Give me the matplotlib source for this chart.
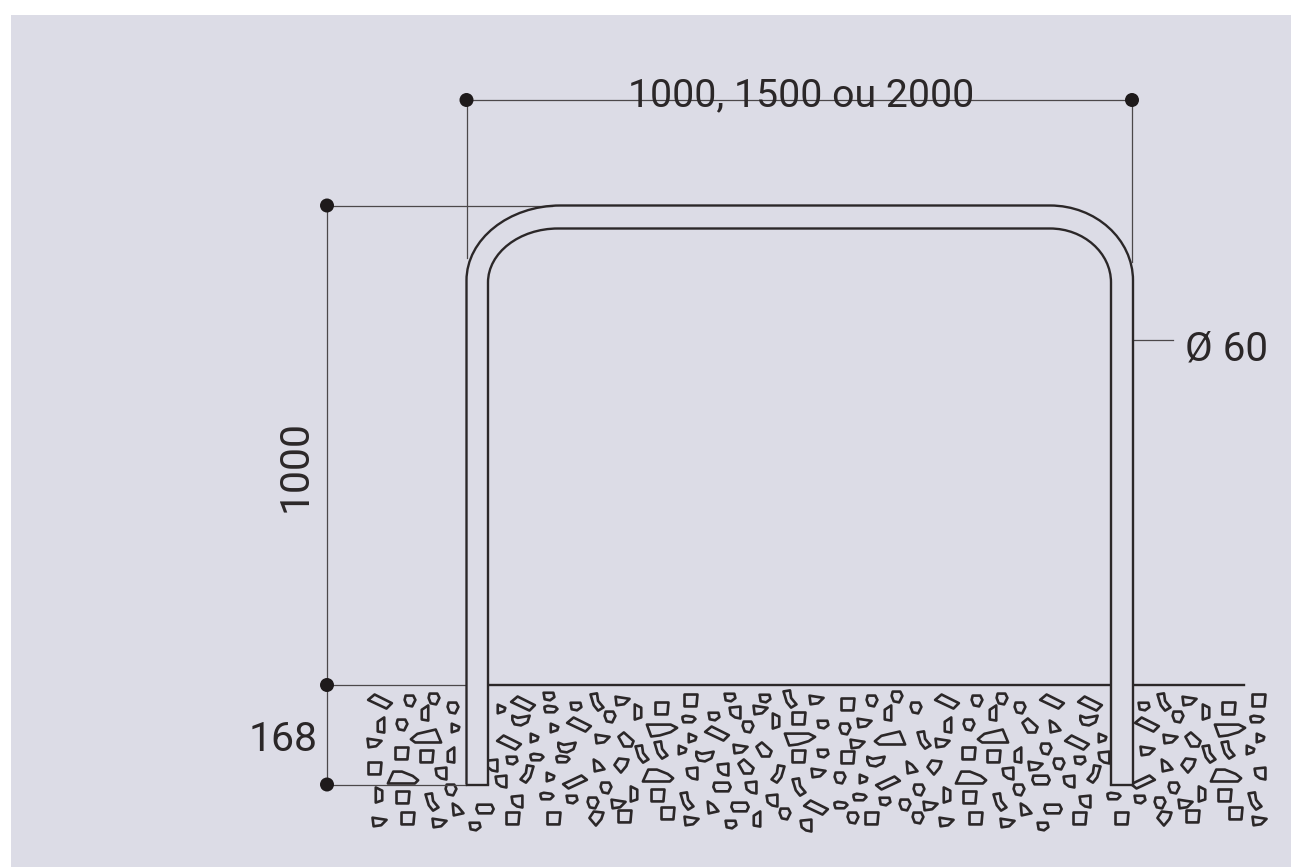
import matplotlib
matplotlib.use('Agg')
import matplotlib.pyplot as plt
from matplotlib.patches import Circle, Polygon, PathPatch, Rectangle
from matplotlib.path import Path

BG = '#dcdce6'
INK = '#2b2728'
THIN = '#4c484a'

# labels
width_label = '1000, 1500 ou 2000'
height_label = '1000'
depth_label = '168'
diam_label = 'Ø 60'

# stone outlines, offsets in px around the centre
shapes = {
	'rhomb': [(-11, -1), (-5, -6), (11, 2), (6, 7)],
	'rhomb_r': [(-11, 2), (6, -6), (11, -2), (-6, 6)],
	'pent': [(-4, -5), (3, -5), (5, -1), (2, 5), (-3, 4), (-5, -1)],
	'tall': [(-3, -3), (3, -7), (3, 7), (-3, 6)],
	'tall_r': [(-3, -7), (3, -4), (3, 5), (-3, 7)],
	'box': [(-6, -6), (6, -6), (5, 5), (-6, 5)],
	'wedge': [(-14, 3), (-8, -2), (9, -6), (14, 6), (-10, 6)],
	'wedge2': [(-14, 6), (-9, -5), (-1, -5), (9, -1), (14, 3), (11, 6)],
	'wedge3': [(-14, -5), (8, -5), (14, -2), (8, 2), (-2, 5), (-10, 6)],
	'half': [(-8, -4), (-3, -2), (3, -3), (8, -4), (6, 2), (0, 5), (-6, 4), (-8, 0)],
	'half2': [(-5, -4), (5, -5), (5, 6), (0, 5), (-4, 2)],
	'tab': [(-6, -4), (7, -2), (2, 3), (-5, 4)],
	'small': [(-5, -3), (4, -3), (5, 1), (1, 4), (-4, 3)],
	'tiny': [(-3, -4), (4, -1), (3, 2), (-3, 4)],
	'tri': [(-4, -6), (1, -3), (6, 3), (-3, 5)],
	'bean': [(-6, -7), (0, -8), (1, -1), (6, 5), (1, 8), (-3, 3)],
	'bean_r': [(0, -8), (6, -7), (3, 3), (-1, 8), (-6, 5), (-1, -1)],
	'pill': [(-7, -4), (6, -4), (8, 0), (6, 4), (-6, 4), (-8, 0)],
	'oval': [(-6, -2), (-3, -3), (4, -2), (6, 0), (3, 3), (-5, 3), (-6, 0)],
	'rs1': [(-7, 0), (-3, -6), (6, -5), (4, 1), (-1, 7)],
	'rs2': [(-7, -3), (-2, -7), (7, 1), (5, 6), (-2, 6)],
}

# gravel
stone_x = [380, 410, 434, 425, 453, 381, 402, 455, 426, 374, 402, 427, 451, 375, 403, 441, 451, 379, 403, 432,
	457, 485, 379, 408, 439, 475, 513, 517, 554, 547, 572, 593, 618, 597, 625, 634, 606, 575, 550, 501,
	527, 492, 512, 537, 563, 567, 534, 509, 521, 523, 501, 549, 551, 554, 576, 579, 597, 622, 610, 638,
	602, 626, 642, 622, 598,
	662, 691, 689, 662, 730, 714, 735, 765, 760, 790, 816, 848, 776, 799, 823, 845, 864, 717, 748, 800,
	692, 682, 661, 705, 740, 764, 799, 823, 848, 857, 658, 692, 723, 746, 778, 818, 840, 863, 722, 751,
	799, 658, 687, 772, 712, 740, 816, 841, 860, 668, 691, 731, 757, 785, 806, 853,
	872, 897, 888, 916, 947, 977, 1002, 993, 1020, 1052, 1090, 948, 969, 1030, 1054, 1089, 890, 924, 942, 993,
	1077, 1046, 969, 994, 1018, 876, 911, 935, 1035, 1059, 1080, 971, 1008, 1094, 888, 919, 1041, 1069, 1019, 947,
	970, 1000, 885, 905, 930, 1025, 1053, 1085, 872, 918, 946, 976, 1007, 1043, 1080,
	1102, 1104, 1144, 1164, 1189, 1206, 1229, 1259, 1257, 1230, 1178, 1147, 1170, 1193, 1147, 1209, 1228, 1250, 1260, 1166,
	1189, 1226, 1260, 1143, 1174, 1202, 1225, 1255, 1114, 1140, 1160, 1185, 1165, 1193, 1122, 1236, 1259]
stone_y = [701, 701, 699, 713, 708, 725, 725, 728, 736, 743, 754, 757, 755, 769, 777, 773, 790, 795, 798, 802,
	810, 809, 822, 819, 823, 826, 819, 801, 819, 796, 799, 803, 804, 818, 817, 794, 788, 782, 777, 781,
	774, 765, 760, 757, 759, 747, 738, 742, 720, 703, 709, 696, 709, 728, 706, 724, 702, 701, 717, 712,
	739, 740, 754, 765, 766,
	709, 701, 719, 730, 697, 716, 712, 698, 710, 699, 700, 705, 721, 719, 724, 729, 723, 733, 727, 739,
	738, 750, 750, 756, 749, 750, 757, 753, 758, 744, 775, 773, 769, 767, 774, 773, 778, 779, 787, 787,
	787, 796, 801, 800, 808, 807, 807, 805, 797, 814, 821, 824, 819, 814, 825, 818,
	701, 697, 713, 708, 701, 701, 699, 713, 708, 701, 703, 725, 725, 726, 727, 720, 738, 740, 743, 736,
	742, 749, 754, 757, 755, 761, 768, 767, 766, 764, 760, 777, 773, 774, 783, 790, 780, 781, 790, 795,
	798, 802, 801, 805, 806, 810, 809, 801, 819, 818, 822, 819, 823, 826, 819,
	738, 757, 706, 702, 701, 712, 709, 701, 719, 730, 717, 724, 739, 740, 751, 754, 750, 750, 738, 766,
	765, 775, 773, 782, 788, 794, 796, 801, 796, 799, 803, 804, 818, 817, 819, 814, 821]
stone_kind = ['rhomb', 'pent', 'pent', 'tall', 'pent', 'tall', 'pent', 'tiny', 'wedge', 'tab', 'box', 'box', 'tall', 'box', 'wedge2', 'half2', 'pent', 'tall_r', 'box', 'bean',
	'tri', 'pill', 'tab', 'box', 'tab', 'small', 'box', 'half2', 'box', 'oval', 'small', 'pent', 'tab', 'rs1', 'box', 'tall_r', 'pent', 'rhomb_r', 'tiny', 'half2',
	'bean_r', 'half2', 'small', 'oval', 'oval', 'half', 'tiny', 'rhomb', 'half', 'rhomb', 'tiny', 'small', 'oval', 'tiny', 'small', 'rhomb', 'bean', 'tab', 'pent', 'tall_r',
	'tab', 'rs2', 'bean', 'rs1', 'tri',
	'box', 'box', 'oval', 'wedge3', 'small', 'small', 'half2', 'small', 'tab', 'bean', 'tab', 'box', 'tall_r', 'box', 'small', 'pent', 'tab', 'rhomb', 'pent', 'wedge3',
	'tiny', 'tiny', 'bean', 'half', 'tab', 'rs2', 'box', 'small', 'box', 'tab', 'wedge2', 'half2', 'half2', 'rs2', 'bean_r', 'tab', 'pent', 'tiny', 'pill', 'half2',
	'bean', 'box', 'bean', 'half2', 'tri', 'pill', 'rhomb', 'oval', 'oval', 'box', 'tab', 'small', 'tall', 'pent', 'half2', 'pent',
	'pent', 'pent', 'tall', 'pent', 'rhomb', 'pent', 'pent', 'tall', 'pent', 'rhomb', 'rhomb', 'tall', 'pent', 'rs2', 'tri', 'half', 'wedge', 'bean', 'tab', 'wedge',
	'rhomb', 'pent', 'box', 'box', 'tall', 'half', 'tri', 'rs1', 'tab', 'pent', 'small', 'wedge2', 'half2', 'bean_r', 'rhomb_r', 'pent', 'pill', 'half2', 'pent', 'tall_r',
	'box', 'bean', 'small', 'pent', 'tab', 'tri', 'pill', 'half2', 'box', 'pent', 'tab', 'box', 'tab', 'small', 'box',
	'tiny', 'half2', 'small', 'bean', 'tab', 'tall_r', 'box', 'box', 'oval', 'wedge3', 'pent', 'rhomb', 'tab', 'rs2', 'tab', 'bean', 'bean', 'tiny', 'tiny', 'tri',
	'rs1', 'wedge2', 'half2', 'rhomb_r', 'pent', 'tall_r', 'box', 'bean', 'oval', 'small', 'pent', 'tab', 'rs1', 'box', 'box', 'box', 'tab']


def arch(left, right, top, bottom, rx_l, rx_r, ry):
	k = 0.55
	verts = [(left, bottom), (left, top + ry),
		(left, top + ry * (1 - k)), (left + rx_l * (1 - k), top), (left + rx_l, top),
		(right - rx_r, top),
		(right - rx_r * (1 - k), top), (right, top + ry * (1 - k)), (right, top + ry),
		(right, bottom)]
	codes = [Path.MOVETO, Path.LINETO, Path.CURVE4, Path.CURVE4, Path.CURVE4, Path.LINETO,
		Path.CURVE4, Path.CURVE4, Path.CURVE4, Path.LINETO]
	return Path(verts, codes)


def main():
	plt.rcParams['font.family'] = ['Roboto', 'DejaVu Sans']
	fig = plt.figure(figsize=(12.91, 8.67), dpi=100, facecolor='white')
	ax = fig.add_axes([0, 0, 1, 1])
	ax.set_xlim(0, 1291)
	ax.set_ylim(867, 0)
	ax.axis('off')

	ax.add_patch(Rectangle((10.5, 15), 1281, 852, fc=BG, ec='none', zorder=0))

	# gravel
	for x, y, kind in zip(stone_x, stone_y, stone_kind):
		pts = [(x + dx * 1.08, y + dy * 1.08) for dx, dy in shapes[kind]]
		ax.add_patch(Polygon(pts, closed=True, fc='none', ec=INK, lw=1.9, joinstyle='round', zorder=1))

	# thin dimension lines
	ax.plot([466.5, 1132], [100, 100], color=THIN, lw=0.9, zorder=2)
	ax.plot([467, 467], [100, 258], color=THIN, lw=0.9, zorder=2)
	ax.plot([1132, 1132], [100, 262], color=THIN, lw=0.9, zorder=2)
	ax.plot([327, 552], [205.5, 205.5], color=THIN, lw=0.9, zorder=2)
	ax.plot([327, 327], [205, 784], color=THIN, lw=0.9, zorder=2)
	ax.plot([327, 466], [685, 685], color=THIN, lw=0.9, zorder=2)
	ax.plot([327, 466], [784.5, 784.5], color=THIN, lw=0.9, zorder=2)
	ax.plot([1133, 1173], [340, 340], color=THIN, lw=0.9, zorder=2)

	# ground
	ax.plot([488, 1111], [685, 685], color=INK, lw=1.7, zorder=2)
	ax.plot([1133, 1244], [685, 685], color=INK, lw=1.7, zorder=2)

	# tube, filled so it hides the stones behind it
	ax.add_patch(Rectangle((466.5, 600), 21.5, 184.5, fc=BG, ec='none', zorder=3))
	ax.add_patch(Rectangle((1111, 600), 22, 184.5, fc=BG, ec='none', zorder=3))
	outer = arch(466.5, 1133, 205.5, 784.5, 94, 83, 75)
	inner = arch(488, 1111, 228.5, 784.5, 70, 61, 54)
	ax.add_patch(PathPatch(outer, fc='none', ec=INK, lw=1.7, zorder=4))
	ax.add_patch(PathPatch(inner, fc='none', ec=INK, lw=1.7, zorder=4))
	ax.plot([466.5, 488], [784.5, 784.5], color=INK, lw=1.7, solid_capstyle='projecting', zorder=4)
	ax.plot([1111, 1133], [784.5, 784.5], color=INK, lw=1.7, solid_capstyle='projecting', zorder=4)

	for cx, cy in [(466.5, 100), (1132, 100), (327, 205.5), (327, 685), (327, 784.5)]:
		ax.add_patch(Circle((cx, cy), 7, fc='#1e1a1b', ec='none', zorder=5))

	# text
	ax.text(801.5, 106, width_label, ha='center', va='baseline', fontsize=28.3, color=INK, zorder=6)
	ax.text(295, 466, height_label, ha='center', va='center', rotation=90, fontsize=29.5, color=INK, zorder=6)
	ax.text(283, 751, depth_label, ha='center', va='baseline', fontsize=29.5, color=INK, zorder=6)
	ax.text(1226.5, 361, diam_label, ha='center', va='baseline', fontsize=29, color=INK, zorder=6)

	fig.savefig('out.png', dpi=100, facecolor='white')


if __name__ == '__main__':
	main()
